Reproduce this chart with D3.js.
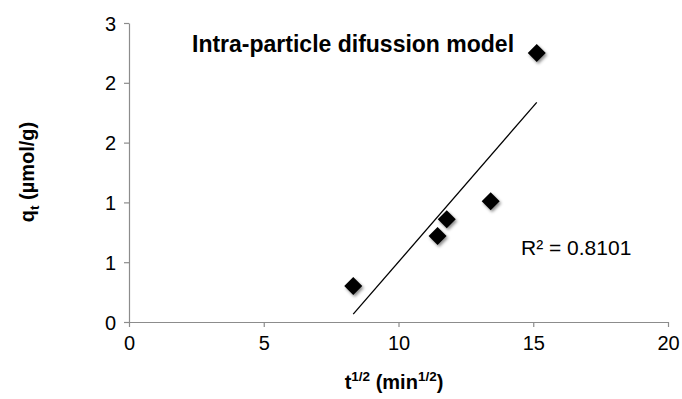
<!DOCTYPE html>
<html><head><meta charset="utf-8">
<script src="https://cdn.jsdelivr.net/npm/d3@7"></script>
<style>body{margin:0;background:#fff;} svg{display:block;font-family:"Liberation Sans",Arial,sans-serif;}</style>
</head><body>
<svg id="c" width="682" height="399"></svg>
<script>
const tSqrt = [8.32, 11.45, 11.79, 13.42, 15.13];
const qt = [0.30, 0.72, 0.86, 1.01, 2.25];
const xTicks = [0, 5, 10, 15, 20];
const yTicks = [0, 0.5, 1, 1.5, 2, 2.5];
const yTickLabels = ["0", "1", "1", "2", "2", "3"];
const titleText = "Intra-particle difussion model";
const r2Text = "R² = 0.8101";

const svg = d3.select("#c");
const x = d3.scaleLinear().domain([0, 20]).range([129, 668]);
const y = d3.scaleLinear().domain([0, 2.5]).range([322, 23]);
const axisColor = "#8c8c8c";

const defs = svg.append("defs");
const f = defs.append("filter").attr("id","sh").attr("x","-50%").attr("y","-50%").attr("width","200%").attr("height","200%");
f.append("feDropShadow").attr("dx",1.5).attr("dy",2).attr("stdDeviation",1.6).attr("flood-color","#000").attr("flood-opacity",0.45);

// axes
const xAxis = svg.append("g").attr("transform",`translate(0,${y(0)})`)
  .call(d3.axisBottom(x).tickValues(xTicks).tickSize(5).tickSizeOuter(0).tickFormat(d3.format("d")));
const yAxis = svg.append("g").attr("transform",`translate(${x(0)},0)`)
  .call(d3.axisLeft(y).tickValues(yTicks).tickSize(5).tickSizeOuter(0).tickFormat((d,i)=>yTickLabels[i]));
[xAxis, yAxis].forEach(g=>{
  g.select(".domain").attr("stroke",axisColor).attr("stroke-width",1.2);
  g.selectAll(".tick line").attr("stroke",axisColor).attr("stroke-width",1.2);
  g.selectAll(".tick text").attr("fill","#000").attr("font-size",20).attr("font-family","Liberation Sans, Arial, sans-serif");
});
xAxis.selectAll(".tick text").attr("dy","1.0em").attr("y",8);
yAxis.selectAll(".tick text").attr("x",-13).attr("dy","0.35em");

// trendline (least squares)
const n = tSqrt.length;
const mx = d3.mean(tSqrt), my = d3.mean(qt);
let sxy=0, sxx=0;
for(let i=0;i<n;i++){ sxy+=(tSqrt[i]-mx)*(qt[i]-my); sxx+=(tSqrt[i]-mx)**2; }
const slope = sxy/sxx, icpt = my - slope*mx;
const x0 = d3.min(tSqrt), x1 = d3.max(tSqrt);
svg.append("line")
  .attr("x1",x(x0)).attr("y1",y(slope*x0+icpt))
  .attr("x2",x(x1)).attr("y2",y(slope*x1+icpt))
  .attr("stroke","#000").attr("stroke-width",1.3);

// points
const s = 9;
svg.append("g").selectAll("path").data(tSqrt).join("path")
  .attr("d",(d,i)=>{const cx=x(d), cy=y(qt[i]); return `M${cx},${cy-s}L${cx+s},${cy}L${cx},${cy+s}L${cx-s},${cy}Z`;})
  .attr("fill","#000").attr("filter","url(#sh)");

// title
svg.append("text").attr("x",192).attr("y",52).attr("font-size",23).attr("font-weight","bold").text(titleText);
// R2
svg.append("text").attr("x",521).attr("y",255).attr("font-size",21).text(r2Text);

// x axis title
const xt = svg.append("text").attr("x",394).attr("y",389).attr("text-anchor","middle").attr("font-size",20).attr("font-weight","bold");
xt.append("tspan").text("t");
xt.append("tspan").attr("font-size",13.5).attr("dy",-8).text("1/2");
xt.append("tspan").attr("dy",8).text(" (min");
xt.append("tspan").attr("font-size",13.5).attr("dy",-8).text("1/2");
xt.append("tspan").attr("dy",8).text(")");

// y axis title
const yt = svg.append("text").attr("transform","translate(34,172) rotate(-90)").attr("text-anchor","middle").attr("font-size",20).attr("font-weight","bold");
yt.append("tspan").text("q");
yt.append("tspan").attr("font-size",13.5).attr("dy",5).text("t");
yt.append("tspan").attr("dy",-5).text(" (µmol/g)");
</script>
</body></html>
